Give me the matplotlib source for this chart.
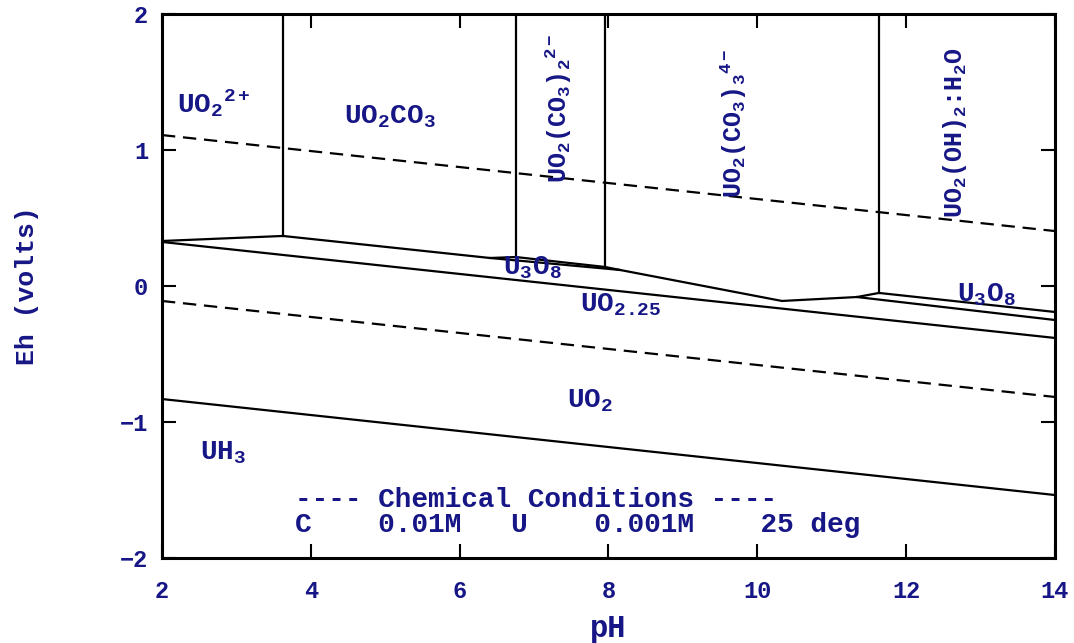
import matplotlib
matplotlib.use("Agg")
import matplotlib.pyplot as plt

navy = "#161686"
plt.rcParams["font.family"] = ["Liberation Mono", "DejaVu Sans Mono"]
plt.rcParams["font.weight"] = "bold"
plt.rcParams["mathtext.fontset"] = "custom"
plt.rcParams["mathtext.rm"] = "Liberation Mono:bold"
plt.rcParams["mathtext.it"] = "Liberation Mono:bold"
plt.rcParams["mathtext.bf"] = "Liberation Mono:bold"

# water stability limits (dashed)
o2_ph = [2, 14]
o2_eh = [1.110, 0.404]
h2_ph = [2, 14]
h2_eh = [-0.110, -0.816]

# aqueous / solid boundary
aq_ph = [2.00, 3.626, 6.408, 6.757, 7.953, 8.155, 10.331, 11.339, 11.635, 14.0]
aq_eh = [0.331, 0.368, 0.206, 0.213, 0.140, 0.118, -0.110, -0.081, -0.051, -0.191]

# U3O8 lower boundaries
u3o8a_ph = [6.408, 8.155]
u3o8a_eh = [0.206, 0.118]
u3o8b_ph = [11.339, 14.0]
u3o8b_eh = [-0.081, -0.250]

# UO2.25 / UO2
uo225_ph = [2, 14]
uo225_eh = [0.324, -0.382]

# UO2 / UH3
uh3_ph = [2, 14]
uh3_eh = [-0.831, -1.537]

# vertical aqueous boundaries: pH, lower Eh
vert_ph = [3.626, 6.757, 7.953, 11.635]
vert_eh = [0.368, 0.213, 0.140, -0.051]

labels = [r"UO$_2$$^{2+}$", r"UO$_2$CO$_3$", r"U$_3$O$_8$", r"UO$_{2.25}$",
          r"UO$_2$", r"UH$_3$", r"U$_3$O$_8$"]
label_pos = [(2.197, 1.274), (4.45, 1.196), (6.586, 0.081), (7.617, -0.191),
             (7.44, -0.890), (2.51, -1.279), (12.68, -0.115)]

vlabels = [r"UO$_2$(CO$_3$)$_2$$^{2-}$", r"UO$_2$(CO$_3$)$_3$$^{4-}$",
           r"UO$_2$(OH)$_2$:H$_2$O"]
vlabel_pos = [(7.44, 0.757), (9.795, 0.647), (12.75, 0.50)]

cond_lines = ["---- Chemical Conditions ----",
              "C    0.01M   U    0.001M    25 deg"]

fig = plt.figure(figsize=(10.74, 6.43), dpi=100)
ax = fig.add_axes([0.1508, 0.1322, 0.8315, 0.846])

lw = 1.6
ax.plot(o2_ph, o2_eh, color="black", lw=lw, dashes=(6, 3.5))
ax.plot(h2_ph, h2_eh, color="black", lw=lw, dashes=(6, 3.5))
ax.plot(aq_ph, aq_eh, color="black", lw=lw)
ax.plot(u3o8a_ph, u3o8a_eh, color="black", lw=lw)
ax.plot(u3o8b_ph, u3o8b_eh, color="black", lw=lw)
ax.plot(uo225_ph, uo225_eh, color="black", lw=lw)
ax.plot(uh3_ph, uh3_eh, color="black", lw=lw)
for p, e in zip(vert_ph, vert_eh):
    ax.plot([p, p], [e, 2], color="black", lw=lw)

for t, (x, y) in zip(labels, label_pos):
    ax.text(x, y, t, color=navy, fontsize=20, ha="left", va="baseline")
for t, (x, y) in zip(vlabels, vlabel_pos):
    ax.text(x, y, t, color=navy, fontsize=18, rotation=90,
            rotation_mode="anchor", ha="left", va="baseline")

ax.text(3.787, -1.625, cond_lines[0], color=navy, fontsize=20, ha="left", va="baseline")
ax.text(3.787, -1.809, cond_lines[1], color=navy, fontsize=20, ha="left", va="baseline")

ax.set_xlim(2, 14)
ax.set_ylim(-2, 2)
ax.set_xticks([2, 4, 6, 8, 10, 12, 14])
ax.set_yticks([-2, -1, 0, 1, 2])
ax.tick_params(direction="in", length=10, width=1.5, top=True, right=True,
               labelsize=17, labelcolor=navy)
ax.tick_params(axis="x", pad=16)
ax.tick_params(axis="y", pad=10)
for s in ax.spines.values():
    s.set_linewidth(2.2)

ax.set_xlabel("pH", color=navy, fontsize=22, fontweight="bold", labelpad=8)
ax.set_ylabel("Eh (volts)", color=navy, fontsize=19, fontweight="bold", labelpad=58)

fig.savefig("out.png", dpi=100)
